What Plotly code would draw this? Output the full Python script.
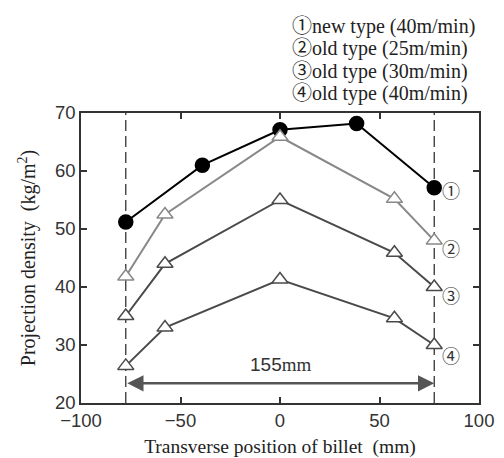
import plotly.graph_objects as go

x_new = [-77.5, -39, 0, 38.5, 77.5]
y_new40 = [51.2, 61.0, 67.1, 68.2, 57.1]
x_old = [-77.5, -57.8, 0, 57.5, 77.5]
y_old25 = [41.8, 52.5, 65.9, 55.2, 48.0]
y_old30 = [35.0, 44.0, 55.0, 45.9, 40.0]
y_old40 = [26.4, 33.0, 41.3, 34.6, 30.0]
marks = ["①", "②", "③", "④"]
legend_names = ["new type (40m/min)", "old type (25m/min)", "old type (30m/min)", "old type (40m/min)"]
edge = 77.5

serif = "Liberation Serif"
cjk = "Noto Sans CJK JP"
OFF = 8  # page body margin
W, H = 504 - OFF, 458 - OFF
ml, mr, mt, mb = 81 - OFF, 25, 113 - OFF, 55

fig = go.Figure()
series = [
    (x_new, y_new40, "#000000", "circle", "#000000"),
    (x_old, y_old25, "#888888", "triangle-up", "#ffffff"),
    (x_old, y_old30, "#4a4a4a", "triangle-up", "#ffffff"),
    (x_old, y_old40, "#4a4a4a", "triangle-up", "#ffffff"),
]
for xs, ys, col, sym, fill in series:
    fig.add_trace(go.Scatter(x=xs, y=ys, mode="lines+markers",
                             line=dict(color=col, width=2),
                             marker=dict(symbol=sym, size=14,
                                         color=fill, line=dict(color=col, width=1.5)),
                             showlegend=False, cliponaxis=False))

for xv in (-edge, edge):
    fig.add_shape(type="line", x0=xv, x1=xv, y0=0, y1=1, xref="x", yref="paper",
                  line=dict(color="#222", width=1.2, dash="11px,5px"), layer="below")

ends = [y_new40[-1], y_old25[-1], y_old30[-1], y_old40[-1]]
label_shift = [-2, -7, -8, -10]
for m, yv, s in zip(marks, ends, label_shift):
    fig.add_annotation(x=edge, y=yv, text=m, showarrow=False, xanchor="left",
                       xshift=6, yshift=s, font=dict(family=cjk, size=18, color="#333"))

fig.add_annotation(x=edge, y=23.4, ax=-edge, ay=23.4, xref="x", yref="y", axref="x", ayref="y",
                   showarrow=True, arrowhead=2, startarrowhead=2, arrowside="end+start",
                   arrowsize=1.3, startarrowsize=1.3, arrowwidth=2.5, arrowcolor="#555", text="")
fig.add_annotation(x=0, y=26.6, text="155<span style='font-family:Liberation Serif'>mm</span>",
                   showarrow=False, font=dict(family="Liberation Sans", size=19, color="#333"))

# legend block: one text, 22.3 px line pitch (1.3 em of 17.2 px), glyphs drawn at 20 px
pw, ph = W - ml - mr, H - mt - mb
legend_text = "<br>".join(
    f"<span style='font-size:20px'><span style='font-family:{cjk}'>{m}</span>{t}</span>"
    for m, t in zip(marks, legend_names))
fig.add_annotation(x=(290 - OFF - ml) / pw, y=1 + (mt - (58.5 - OFF)) / ph,
                   xref="paper", yref="paper", text=legend_text, align="left",
                   showarrow=False, xanchor="left", yanchor="middle",
                   font=dict(family=serif, size=17.2, color="#222"))

axis_common = dict(showline=True, linecolor="#333", linewidth=1.5, mirror="ticks",
                   ticks="inside", ticklen=6, tickwidth=1.5, tickcolor="#333",
                   showgrid=False, zeroline=False, automargin=False,
                   tickfont=dict(family="Liberation Sans", size=18.5, color="#333"))
fig.update_layout(
    width=W, height=H, margin=dict(l=ml, r=mr, t=mt, b=mb, autoexpand=False),
    paper_bgcolor="white", plot_bgcolor="white",
    xaxis=dict(range=[-100, 100], tickvals=[-100, -50, 0, 50, 100],
               ticktext=["−100", "−50", "0", "50", "100"],
               title=dict(text="Transverse position of billet  (mm)", standoff=20,
                          font=dict(family=serif, size=19.5, color="#222")), **axis_common),
    yaxis=dict(range=[20, 70], tickvals=[20, 30, 40, 50, 60, 70],
               title=dict(text="Projection density  (kg/m<sup>2</sup>)", standoff=14,
                          font=dict(family=serif, size=20, color="#222")), **axis_common),
)
fig.write_html("out.html")
